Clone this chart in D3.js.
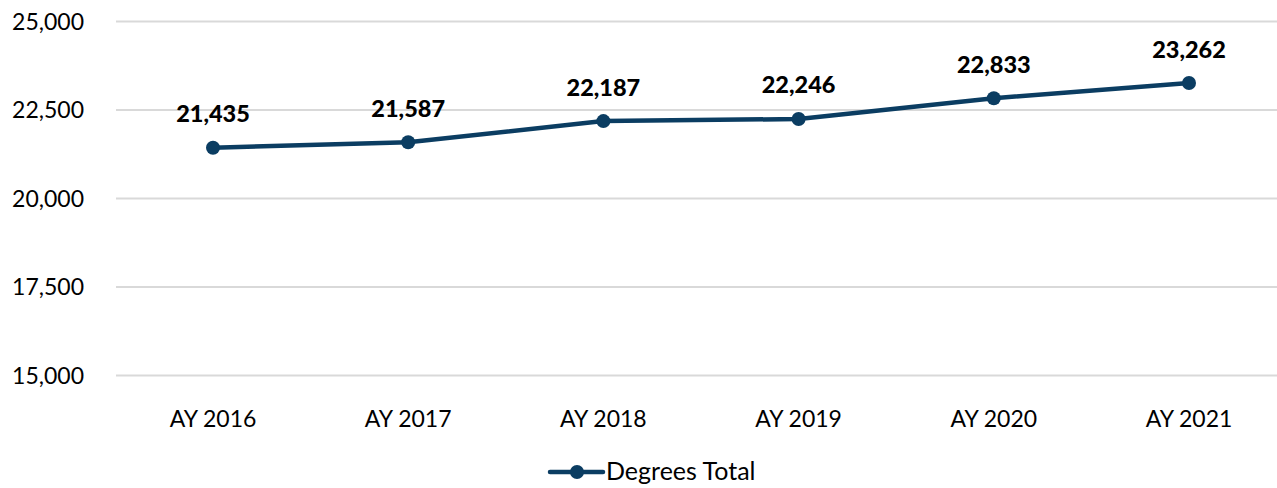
<!DOCTYPE html>
<html><head><meta charset="utf-8">
<script src="https://cdn.jsdelivr.net/npm/d3@7"></script>
<style>body{margin:0;background:#fff}svg{display:block}text{font-family:Lato,"Open Sans",sans-serif;fill:#000}</style>
</head><body><svg id="c" width="1277" height="488"></svg>
<script>
const categories = ["AY 2016","AY 2017","AY 2018","AY 2019","AY 2020","AY 2021"];
const values = [21435, 21587, 22187, 22246, 22833, 23262];
const yTicks = [15000, 17500, 20000, 22500, 25000];
const seriesName = "Degrees Total";

const svg = d3.select("#c");
const color = "#0b3d62";
const x = d3.scalePoint().domain(categories).range([213, 1189]);
const y = d3.scaleLinear().domain([15000, 25000]).range([375.5, 21.5]);
const fmt = d3.format(",");

svg.append("g").selectAll("line").data(yTicks).join("line")
  .attr("x1", 116).attr("x2", 1277)
  .attr("y1", d => y(d)).attr("y2", d => y(d))
  .attr("stroke", "#d9d9d9").attr("stroke-width", 2);

svg.append("g").selectAll("text").data(yTicks).join("text")
  .attr("x", 84).attr("y", d => y(d) + 8)
  .attr("text-anchor", "end").style("font-size", "23px")
  .text(d => fmt(d));

svg.append("g").selectAll("text").data(categories).join("text")
  .attr("x", d => x(d)).attr("y", 427)
  .attr("text-anchor", "middle").style("font-size", "23px")
  .text(d => d);

const line = d3.line().x((d, i) => x(categories[i])).y(d => y(d));
svg.append("path").datum(values).attr("d", line)
  .attr("fill", "none").attr("stroke", color).attr("stroke-width", 4.5)
  .attr("stroke-linejoin", "round").attr("stroke-linecap", "round");

svg.append("g").selectAll("circle").data(values).join("circle")
  .attr("cx", (d, i) => x(categories[i])).attr("cy", d => y(d))
  .attr("r", 7).attr("fill", color);

svg.append("g").selectAll("text").data(values).join("text")
  .attr("x", (d, i) => x(categories[i])).attr("y", d => y(d) - 25.5)
  .attr("text-anchor", "middle").style("font-size", "23.5px").style("font-weight", "900")
  .text(d => fmt(d));

const lg = svg.append("g");
lg.append("line").attr("x1", 550).attr("x2", 603).attr("y1", 472).attr("y2", 472)
  .attr("stroke", color).attr("stroke-width", 4.5).attr("stroke-linecap", "round");
lg.append("circle").attr("cx", 577).attr("cy", 472).attr("r", 7).attr("fill", color);
lg.append("text").attr("x", 606).attr("y", 480).style("font-size", "25px").text(seriesName);
</script></body></html>
